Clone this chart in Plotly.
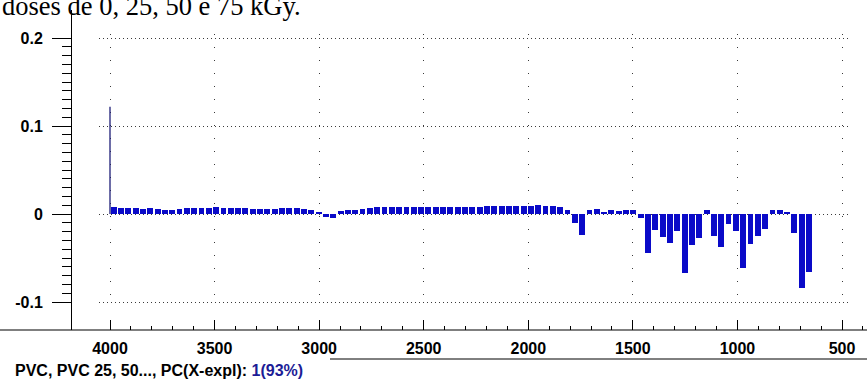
import plotly.graph_objects as go

# PC1 loadings of the FTIR spectra (wavenumber in cm-1), drawn as bars
wavenumber_start = 3982.5
wavenumber_step = 35.0
loadings = [
    0.0075, 0.0070, 0.0066, 0.0068, 0.0062, 0.0070, 0.0058, 0.0040, 0.0046, 0.0062,
    0.0066, 0.0068, 0.0072, 0.0072, 0.0074, 0.0071, 0.0066, 0.0070, 0.0072, 0.0060,
    0.0060, 0.0062, 0.0061, 0.0066, 0.0070, 0.0067, 0.0060, 0.0045, 0.0020, -0.0030,
    -0.0050, 0.0030, 0.0040, 0.0050, 0.0060, 0.0072, 0.0074, 0.0076, 0.0074, 0.0076,
    0.0077, 0.0075, 0.0076, 0.0078, 0.0076, 0.0075, 0.0076, 0.0078, 0.0079, 0.0078,
    0.0085, 0.0088, 0.0086, 0.0088, 0.0090, 0.0089, 0.0092, 0.0095, 0.0097, 0.0096,
    0.0093, 0.0075, 0.0040, -0.0100, -0.0240, 0.0050, 0.0060, 0.0020, 0.0040, 0.0030,
    0.0050, 0.0040, -0.0040, -0.0440, -0.0180, -0.0260, -0.0330, -0.0190, -0.0670, -0.0350,
    -0.0270, 0.0050, -0.0250, -0.0380, -0.0110, -0.0190, -0.0610, -0.0340, -0.0250, -0.0170,
    0.0040, 0.0050, 0.0020, -0.0220, -0.0840, -0.0660,
]
wavenumbers = [wavenumber_start - wavenumber_step * i for i in range(len(loadings))]

# isolated loading at the first variable
spike_wavenumber = 4000
spike_value = 0.122

x_ticks = [4000, 3500, 3000, 2500, 2000, 1500, 1000, 500]
x_minor = list(range(4000, 399, -100))
y_ticks = [-0.1, 0, 0.1, 0.2]
y_labels = ["-0.1", "0", "0.1", "0.2"]
y_minor = [round(-0.1 + 0.01 * i, 2) for i in range(31)]

BAR_BLUE = "#0a0ac8"
NAVY = "#1e1e78"
FONT = "Arial, Liberation Sans, sans-serif"

fig = go.Figure()

fig.add_trace(go.Bar(
    x=wavenumbers, y=loadings, width=28,
    marker=dict(color=BAR_BLUE, line=dict(width=0)),
    xaxis="x", yaxis="y", showlegend=False, hoverinfo="x+y",
))
fig.add_trace(go.Scatter(
    x=[spike_wavenumber, spike_wavenumber], y=[0, spike_value],
    mode="lines", line=dict(color=NAVY, width=1.3),
    xaxis="x", yaxis="y", showlegend=False,
))
# empty trace that carries the frame axes
fig.add_trace(go.Scatter(x=[], y=[], xaxis="x2", yaxis="y2", showlegend=False))

W, H = 867, 379
L, R, T, B = 72, 0, 10, 49
PW, PH = W - L - R, H - T - B

# pixel scale of the frame axes
PX_PER_CM = 0.20914
PX_PER_UNIT = 880.0
GX0, GX1 = 99, 849      # grid box, left/right pixel
GY0, GY1 = 34, 306      # grid box, top/bottom pixel

fig.update_layout(
    width=W, height=H,
    margin=dict(l=L, r=R, t=T, b=B),
    paper_bgcolor="white", plot_bgcolor="rgba(0,0,0,0)",
    bargap=0,
    # dotted grid box
    xaxis=dict(
        domain=[(GX0 - L) / PW, (GX1 - L) / PW],
        range=[4000 + (110 - GX0) / PX_PER_CM, 500 - (GX1 - 842) / PX_PER_CM],
        tickmode="array", tickvals=x_ticks, showticklabels=False, ticks="",
        showgrid=True, gridcolor="#3a3a3a", gridwidth=1, griddash="1px,12px",
        zeroline=False, showline=False, anchor="y",
    ),
    yaxis=dict(
        domain=[(330 - GY1) / PH, (330 - GY0) / PH],
        range=[-0.1 - (GY1 - 302) / PX_PER_UNIT, 0.2 + (38 - GY0) / PX_PER_UNIT],
        tickmode="array", tickvals=y_ticks, showticklabels=False, ticks="",
        showgrid=True, gridcolor="#3a3a3a", gridwidth=1, griddash="1px,3px",
        zeroline=False, showline=False, anchor="x",
    ),
    # frame axes with ticks and labels
    xaxis2=dict(
        domain=[0, 1], range=[4181.7, 380.5], anchor="y2",
        tickmode="array", tickvals=x_ticks, ticktext=[str(v) for v in x_ticks],
        ticks="inside", ticklen=10, tickwidth=1, tickcolor="black",
        minor=dict(tickmode="array", tickvals=x_minor, ticks="inside", ticklen=4,
                   tickcolor="black", showgrid=False),
        tickfont=dict(family=FONT, size=16, color="black", weight=700),
        ticklabelstandoff=7,
        showgrid=False, zeroline=False, showline=False,
    ),
    yaxis2=dict(
        domain=[0, 1], range=[-0.13182, 0.23182], anchor="x2",
        tickmode="array", tickvals=y_ticks, ticktext=y_labels,
        ticks="outside", ticklen=19, tickwidth=1, tickcolor="black",
        minor=dict(tickmode="array", tickvals=y_minor, ticks="outside", ticklen=9,
                   tickcolor="black", showgrid=False),
        tickfont=dict(family=FONT, size=16, color="black", weight=700),
        ticklabelstandoff=6,
        showgrid=False, zeroline=False, showline=True, linecolor="black", linewidth=1,
    ),
    shapes=[
        dict(type="line", xref="paper", yref="paper", x0=-L / PW, x1=1, y0=0, y1=0,
             line=dict(color="black", width=1.2)),
        dict(type="line", xref="paper", yref="paper", x0=(330 - L) / PW, x1=1,
             y0=-(359 - 330) / PH, y1=-(359 - 330) / PH,
             line=dict(color="black", width=1)),
    ],
    annotations=[
        dict(text="doses de 0, 25, 50 e 75 kGy.", xref="paper", yref="paper",
             x=-L / PW, y=(330 - 6.5) / PH, xanchor="left", yanchor="middle",
             showarrow=False,
             font=dict(family="Liberation Serif, Times New Roman, serif", size=26.5, color="black")),
        dict(text="<b>PVC, PVC 25, 50..., PC(X-expl): "
                  "<span style='color:#1c1c96'>1(93%)</span></b>",
             xref="paper", yref="paper", x=(13 - L) / PW, y=-(370 - 330) / PH,
             xanchor="left", yanchor="middle", showarrow=False,
             font=dict(family=FONT, size=16, color="black")),
    ],
)

fig.write_html("out.html")
